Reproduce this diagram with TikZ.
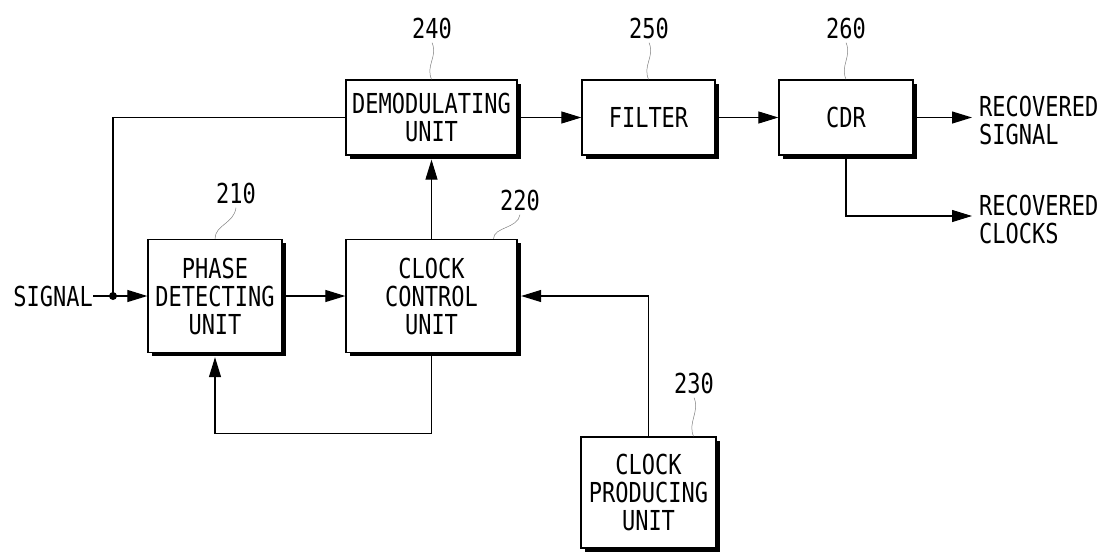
\documentclass[tikz,border=0pt]{standalone}
\usepackage{fontspec}
\usepackage{tikz}
\usetikzlibrary{arrows.meta,shadows}
\newfontfamily\blkfont{DejaVu Sans Mono}[FakeStretch=0.8]

\begin{document}
\begin{tikzpicture}[x=1pt,y=-1pt,
     every node/.style={inner sep=0pt,font=\blkfont\fontsize{27.5}{28}\selectfont},
     blk/.style={draw,line width=1.3pt,fill=white,align=center,
        drop shadow={shadow xshift=3.5pt,shadow yshift=-3.5pt,opacity=1,fill=black}},
     wire/.style={line width=1.1pt},
     tip/.style={-{Triangle[length=20pt,width=12pt]}},
     lead/.style={draw=gray,line width=0.5pt}]
    \useasboundingbox (0,0) rectangle (1111,552);
          	\node[blk,minimum width=171pt,minimum height=75pt] (demod) at (431.5,117.5) {DEMODULATING\\UNIT};
          	\node[blk,minimum width=133pt,minimum height=75pt] (filter) at (648.5,117.5) {FILTER};
          	\node[blk,minimum width=134pt,minimum height=75pt] (cdr) at (846,117.5) {CDR};
          	\node[blk,minimum width=134pt,minimum height=113pt] (phase) at (215,296) {PHASE\\DETECTING\\UNIT};
          	\node[blk,minimum width=171pt,minimum height=113pt] (clkctrl) at (431.5,296) {CLOCK\\CONTROL\\UNIT};
          	\node[blk,minimum width=135pt,minimum height=111pt] (clkprod) at (648.5,492.5) {CLOCK\\PRODUCING\\UNIT};
             \node[anchor=east] (sig) at (93,296) {SIGNAL};
             \node[anchor=west,align=left] (recsig) at (979,120) {RECOVERED\\SIGNAL};
             \node[anchor=west,align=left] (recclk) at (979,219) {RECOVERED\\CLOCKS};
             \coordinate (jct) at (113,296);
             \coordinate (sigend) at (972,117.5);
             \coordinate (clkend) at (972,216);
             \node (n210) at (236,193) {210};
             \node (n220) at (520,200) {220};
             \node (n230) at (694,383) {230};
             \node (n240) at (432,28) {240};
             \node (n250) at (649,28) {250};
             \node (n260) at (846,28) {260};
            \draw[wire,tip] (sig.east) -- (phase.west);
            \fill (jct) circle (4pt);
            \draw[wire] (jct) |- (demod.west);
            \draw[wire,tip] (demod.east) -- (filter.west);
            \draw[wire,tip] (filter.east) -- (cdr.west);
            \draw[wire,tip] (cdr.east) -- (sigend);
            \draw[wire,tip] (cdr.south) |- (clkend);
            \draw[wire,tip] (phase.east) -- (clkctrl.west);
            \draw[wire,tip,shorten >=4pt] (clkctrl.north) -- (demod.south);
            \draw[wire,tip,shorten >=4pt] (clkctrl.south) -- ++(0,80) -| (phase.south);
            \draw[wire,tip,shorten >=3.5pt] (clkprod.north) |- (clkctrl.east);
             \draw[lead] ([yshift=-4pt]n240.south) .. controls +(6,14) and +(-6,-14) .. (demod.north);
             \draw[lead] ([yshift=-4pt]n250.south) .. controls +(6,14) and +(-6,-14) .. (filter.north);
             \draw[lead] ([yshift=-4pt]n260.south) .. controls +(6,14) and +(-6,-14) .. (cdr.north);
             \draw[lead] ([yshift=-4pt]n210.south) .. controls +(-2,16) and +(0,-14) .. (phase.north);
             \draw[lead] ([yshift=-4pt]n220.south) .. controls +(-2,14) and +(0,-12) .. ([xshift=62pt]clkctrl.north);
             \draw[lead] ([yshift=-4pt]n230.south) .. controls +(6,14) and +(-6,-14) .. ([xshift=45pt]clkprod.north);
      \end{tikzpicture}
\end{document}
